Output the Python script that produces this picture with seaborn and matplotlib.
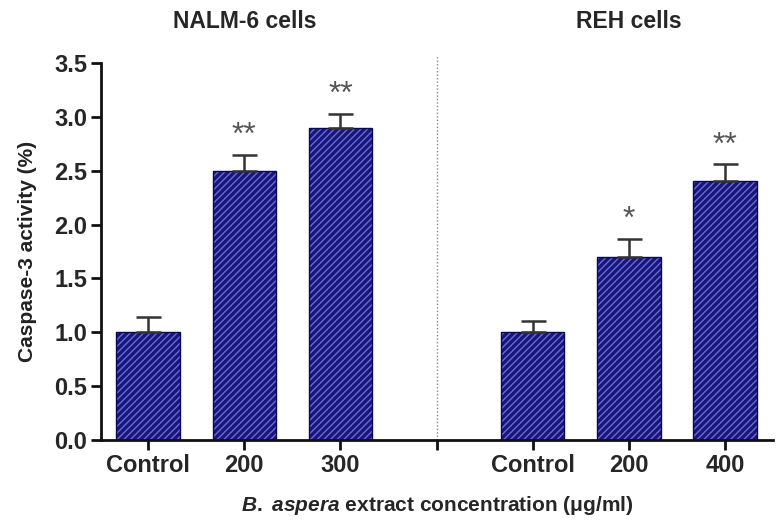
import matplotlib
matplotlib.use("Agg")
import matplotlib.pyplot as plt
import seaborn as sns
import pandas as pd
import numpy as np

# Data
groups = ["NALM-6 cells", "NALM-6 cells", "NALM-6 cells", "REH cells", "REH cells", "REH cells"]
labels = ["Control", "200", "300", "Control", "200", "400"]
keys = ["N_Control", "N_200", "N_300", "R_Control", "R_200", "R_400"]
values = [1.0, 2.5, 2.9, 1.0, 1.7, 2.4]
errors = [0.14, 0.15, 0.13, 0.10, 0.17, 0.16]
stars = ["", "**", "**", "", "*", "**"]
order = ["N_Control", "N_200", "N_300", "gap", "R_Control", "R_200", "R_400"]
tick_labels = ["Control", "200", "300", "", "Control", "200", "400"]

sns.set_style("white")
plt.rcParams['font.family'] = ['Liberation Sans', 'DejaVu Sans']
plt.rcParams['hatch.linewidth'] = 2.4
plt.rcParams['mathtext.fontset'] = 'custom'
plt.rcParams['mathtext.it'] = 'Liberation Sans:italic:bold'
plt.rcParams['mathtext.bf'] = 'Liberation Sans:bold'
plt.rcParams['mathtext.rm'] = 'Liberation Sans:bold'

df = pd.DataFrame({"key": keys, "value": values, "group": groups})

fig = plt.figure(figsize=(7.77, 5.28), dpi=100)
ax = fig.add_axes([0.130, 0.1667, 0.865, 0.714])

sns.barplot(data=df, x="key", y="value", order=order, ax=ax, width=0.66,
            color="#6c6cd4", errorbar=None, saturation=1)

bars = [p for p in ax.patches if p.get_height() > 0]
for p in bars:
    p.set_hatch("/////")
    p.set_edgecolor("#16167c")
    p.set_linewidth(0)
    x0, y0 = p.get_x(), p.get_y()
    w, h = p.get_width(), p.get_height()
    ax.add_patch(plt.Rectangle((x0, y0), w, h, fill=False, edgecolor="#0a0a50",
                               linewidth=1.0, zorder=3))

pos = [order.index(k) for k in keys]
ax.errorbar(pos, values, yerr=[np.zeros(len(values)), errors], fmt="none",
            ecolor="#333333", elinewidth=1.8, capsize=9, capthick=1.8, zorder=4)

for x, v, e, s in zip(pos, values, errors, stars):
    if s:
        ax.text(x, v + e + 0.03, s, ha="center", va="bottom", fontsize=23,
                color="#555555")

ax.axvline(3, ymin=0, ymax=1.02, color="#888888", linestyle=(0, (1, 1.5)),
           linewidth=1.0, clip_on=False)

ax.set_xlim(-0.49, 6.5)
ax.set_ylim(0, 3.5)
yt = np.arange(0, 3.51, 0.5)
ax.set_yticks(yt)
ax.set_yticklabels([f"{t:.1f}" for t in yt])
ax.set_xticks(range(7))
ax.set_xticklabels(tick_labels)

for sp in ["top", "right"]:
    ax.spines[sp].set_visible(False)
for sp in ["left", "bottom"]:
    ax.spines[sp].set_linewidth(2.0)
    ax.spines[sp].set_color("#111111")

ax.tick_params(axis="both", which="major", direction="out", length=7, width=2.0,
               color="#111111", labelsize=17, pad=3, bottom=True, left=True)
for lab in ax.get_xticklabels() + ax.get_yticklabels():
    lab.set_fontweight("bold")

ax.set_ylabel("Caspase-3 activity (%)", fontsize=15, fontweight="bold",
              labelpad=12, color="#222222")
ax.set_xlabel(r"$\it{B.\ aspera}$ extract concentration (μg/ml)", fontsize=15,
              fontweight="bold", labelpad=12)

ax.text(1, 1.11, "NALM-6 cells", transform=ax.get_xaxis_transform(), ha="center",
        va="center", fontsize=16.5, fontweight="bold")
ax.text(5, 1.11, "REH cells", transform=ax.get_xaxis_transform(), ha="center",
        va="center", fontsize=16.5, fontweight="bold")

fig.savefig("out.png", dpi=100)
